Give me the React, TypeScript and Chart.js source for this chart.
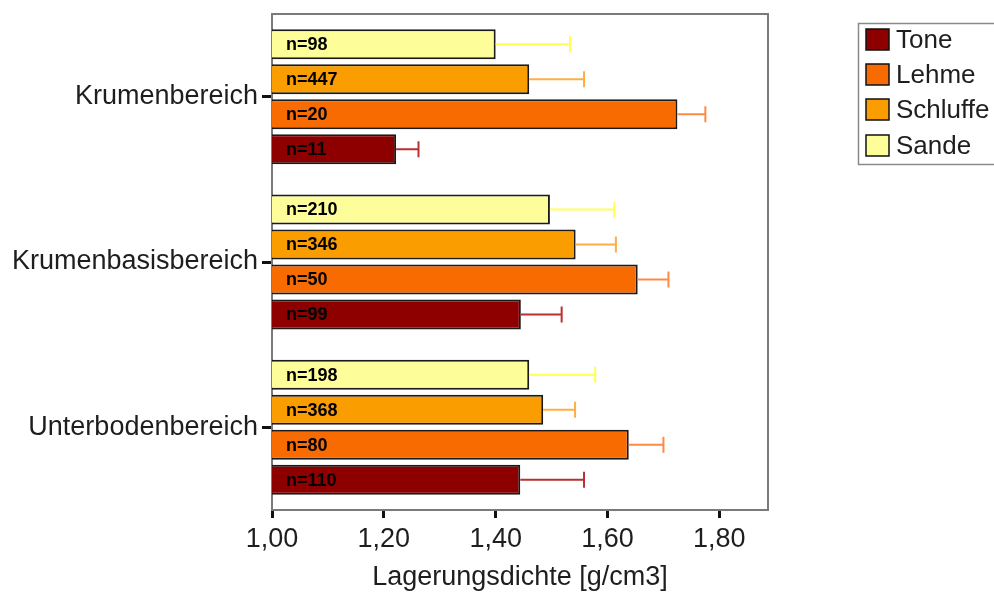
import React, { useEffect, useRef } from 'react';
import { Chart, registerables } from 'chart.js';

Chart.register(...registerables);

const categories = ['Krumenbereich', 'Krumenbasisbereich', 'Unterbodenbereich'];

// drawing order top-to-bottom inside each group
const seriesNames = ['Sande', 'Schluffe', 'Lehme', 'Tone'];

const sandeValues = [1.4, 1.497, 1.46];
const schluffeValues = [1.46, 1.543, 1.485];
const lehmeValues = [1.725, 1.654, 1.638];
const toneValues = [1.222, 1.445, 1.444];

const sandeErrors = [0.133, 0.115, 0.118];
const schluffeErrors = [0.098, 0.072, 0.057];
const lehmeErrors = [0.05, 0.055, 0.062];
const toneErrors = [0.04, 0.073, 0.114];

const sandeCounts = [98, 210, 198];
const schluffeCounts = [447, 346, 368];
const lehmeCounts = [20, 50, 80];
const toneCounts = [11, 99, 110];

const xTicks = [1.0, 1.2, 1.4, 1.6, 1.8];
const xMin = 1.0;
const xMax = 1.887;
const xTitle = 'Lagerungsdichte [g/cm3]';

const barColors = ['#FDFD99', '#F99D00', '#F76B00', '#8E0000'];
const errorColors = ['#FFFF55', '#FFAE45', '#FF8A45', '#B83030'];

const FONT = '"Liberation Sans", Arial, Helvetica, sans-serif';

const framePlugin = {
  id: 'frame',
  beforeDatasetsDraw(chart: any) {
    const { ctx, chartArea } = chart;
    ctx.save();
    ctx.strokeStyle = '#7a7a7a';
    ctx.lineWidth = 2;
    ctx.strokeRect(chartArea.left, chartArea.top, chartArea.right - chartArea.left, chartArea.bottom - chartArea.top);
    ctx.restore();
  },
};

const errorBarPlugin = {
  id: 'errorBars',
  afterDatasetsDraw(chart: any) {
    const ctx = chart.ctx;
    const xs = chart.scales.x;
    chart.data.datasets.forEach((ds: any, di: number) => {
      const meta = chart.getDatasetMeta(di);
      meta.data.forEach((el: any, i: number) => {
        const v = ds.data[i];
        const e = ds.errors[i];
        const x0 = el.x;
        const x1 = xs.getPixelForValue(v + e);
        const y = el.y;
        ctx.save();
        ctx.strokeStyle = ds.errorColor;
        ctx.lineWidth = 2;
        ctx.beginPath();
        ctx.moveTo(x0, y);
        ctx.lineTo(x1, y);
        ctx.moveTo(x1, y - 8);
        ctx.lineTo(x1, y + 8);
        ctx.stroke();
        ctx.fillStyle = '#000';
        ctx.font = 'bold 18px ' + FONT;
        ctx.textBaseline = 'middle';
        ctx.textAlign = 'left';
        ctx.fillText('n=' + ds.counts[i], chart.chartArea.left + 14, y + 1);
        ctx.restore();
      });
    });
  },
};

const legendPlugin = {
  id: 'customLegend',
  afterDraw(chart: any) {
    const ctx = chart.ctx;
    ctx.save();
    ctx.strokeStyle = '#8a8a8a';
    ctx.lineWidth = 1.5;
    ctx.strokeRect(858.5, 23.5, 160, 141);
    const rows = [39.5, 74.5, 109.5, 145.5];
    const dsList = chart.data.datasets.slice().reverse();
    dsList.forEach((ds: any, k: number) => {
      const y = rows[k];
      ctx.fillStyle = ds.backgroundColor;
      ctx.fillRect(866, y - 10.5, 23, 21);
      ctx.strokeStyle = '#111';
      ctx.lineWidth = 1.5;
      ctx.strokeRect(866, y - 10.5, 23, 21);
      ctx.fillStyle = '#1e1e1e';
      ctx.font = '26px ' + FONT;
      ctx.textBaseline = 'middle';
      ctx.textAlign = 'left';
      ctx.fillText(ds.label, 896, y + 1);
    });
    ctx.restore();
  },
};

export default function App() {
  const ref = useRef<HTMLCanvasElement | null>(null);

  useEffect(() => {
    if (!ref.current) return;
    const values = [sandeValues, schluffeValues, lehmeValues, toneValues];
    const errors = [sandeErrors, schluffeErrors, lehmeErrors, toneErrors];
    const counts = [sandeCounts, schluffeCounts, lehmeCounts, toneCounts];
    const chart = new Chart(ref.current, {
      type: 'bar',
      data: {
        labels: categories,
        datasets: seriesNames.map((name, i) => ({
          label: name,
          data: values[i],
          errors: errors[i],
          counts: counts[i],
          errorColor: errorColors[i],
          backgroundColor: barColors[i],
          borderColor: '#1a1a1a',
          borderWidth: 2,
          borderSkipped: false,
          categoryPercentage: 0.847,
          barPercentage: 0.857,
        })) as any,
      },
      options: {
        indexAxis: 'y',
        animation: false,
        responsive: false,
        maintainAspectRatio: false,
        layout: { padding: { left: 0, top: 14, right: 226, bottom: 0 } },
        plugins: { legend: { display: false }, tooltip: { enabled: false } },
        scales: {
          y: {
            type: 'category',
            grid: {
              display: true,
              offset: false,
              drawOnChartArea: false,
              drawTicks: true,
              tickLength: 10,
              color: '#111',
              lineWidth: 3,
            },
            border: { display: false },
            ticks: { padding: 4, color: '#1e1e1e', font: { family: FONT, size: 27, lineHeight: 0.7 } },
            afterFit: (s: any) => {
              s.width = 272;
            },
          },
          x: {
            type: 'linear',
            min: xMin,
            max: xMax,
            grid: { drawOnChartArea: false, tickLength: 8, color: '#111', lineWidth: 3 },
            border: { display: false },
            afterBuildTicks: (s: any) => {
              s.ticks = xTicks.map((v) => ({ value: v }));
            },
            ticks: {
              padding: 5,
              color: '#1e1e1e',
              font: { family: FONT, size: 27, lineHeight: 1.2 },
              callback: (v: any) => Number(v).toFixed(2).replace('.', ','),
            },
            title: {
              display: true,
              text: xTitle,
              color: '#1e1e1e',
              font: { family: FONT, size: 27, lineHeight: 1 },
              padding: { top: 0, bottom: 1 },
            },
            afterFit: (s: any) => {
              s.height = 82;
            },
          },
        },
      } as any,
      plugins: [framePlugin, errorBarPlugin, legendPlugin],
    });
    return () => chart.destroy();
  }, []);

  return (
    <div style={{ position: 'absolute', left: 0, top: 0, width: 994, height: 592, background: '#fff' }}>
      <canvas ref={ref} width={994} height={592} />
    </div>
  );
}
